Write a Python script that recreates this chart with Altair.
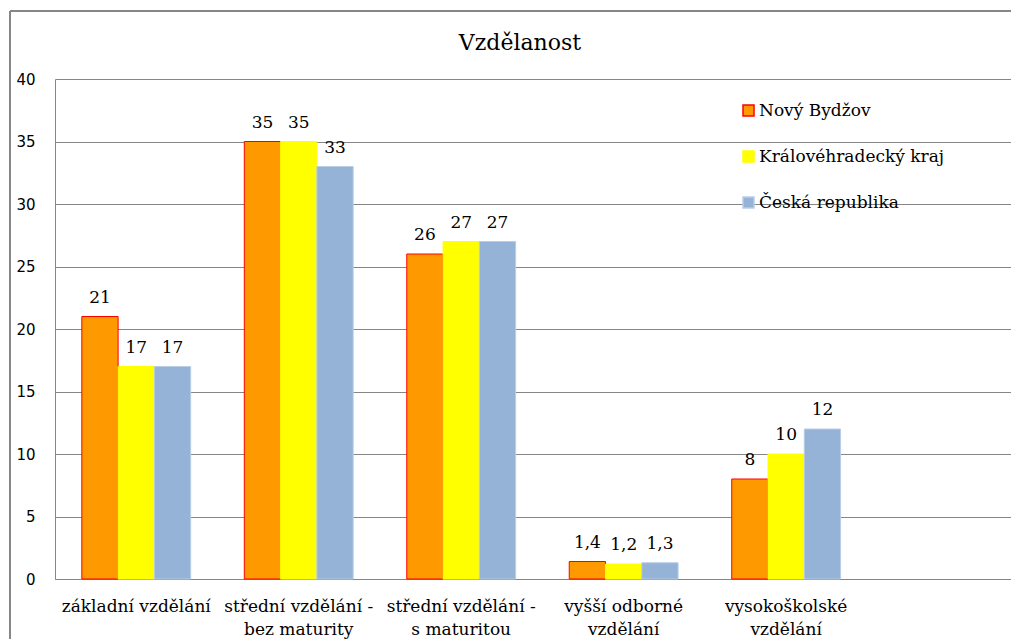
import altair as alt
import pandas as pd

categories = [
    "základní vzdělání",
    "střední vzdělání -|bez maturity",
    "střední vzdělání -|s  maturitou",
    "vyšší odborné|vzdělání",
    "vysokoškolské|vzdělání",
]
series = ["Nový Bydžov", "Královéhradecký kraj", "Česká republika"]
novy_bydzov = [21, 35, 26, 1.4, 8]
kralovehradecky_kraj = [17, 35, 27, 1.2, 10]
ceska_republika = [17, 33, 27, 1.3, 12]
y_ticks = [0, 5, 10, 15, 20, 25, 30, 35, 40]
fill_colors = ["#FF9900", "#FFFF00", "#95B3D7"]
stroke_colors = ["#FF0000", "#FFFF00", "#B9CDE5"]

rows = []
for s, vals in zip(series, [novy_bydzov, kralovehradecky_kraj, ceska_republika]):
    for c, v in zip(categories, vals):
        rows.append({"kategorie": c, "oblast": s, "hodnota": v})
df = pd.DataFrame(rows)

GRAY = "#868686"
SERIF = "DejaVu Serif"

x_enc = alt.X(
    "kategorie:N",
    sort=categories,
    scale=alt.Scale(paddingInner=0.33, paddingOuter=0.607, align=0.136),
    axis=alt.Axis(
        title=None,
        labelExpr="split(datum.label, '|')",
        labelAngle=0,
        ticks=False,
        domainColor=GRAY,
        labelFont=SERIF,
        labelFontSize=17,
        labelLineHeight=23,
        labelPadding=19,
        labelColor="#000000",
        labelLimit=300,
    ),
)
y_enc = alt.Y(
    "hodnota:Q",
    scale=alt.Scale(domain=[0, 40], nice=False),
    axis=alt.Axis(
        values=y_ticks,
        title=None,
        ticks=False,
        grid=True,
        gridColor=GRAY,
        domainColor=GRAY,
        labelFont="DejaVu Sans",
        labelFontSize=15,
        labelPadding=20,
        labelColor="#000000",
    ),
)
xoff = alt.XOffset("oblast:N", sort=series)

base = alt.Chart(df)

bars = base.mark_bar(strokeWidth=1).encode(
    x=x_enc,
    y=y_enc,
    xOffset=xoff,
    fill=alt.Fill(
        "oblast:N",
        sort=series,
        scale=alt.Scale(domain=series, range=fill_colors),
        legend=alt.Legend(
            title=None,
            orient="none",
            legendX=685,
            legendY=23,
            symbolType="square",
            symbolSize=121,
            symbolStrokeWidth=1.5,
            labelFont=SERIF,
            labelFontSize=17,
            labelColor="#000000",
            labelLimit=300,
            rowPadding=28,
            labelOffset=2,
        ),
    ),
    stroke=alt.Stroke(
        "oblast:N",
        sort=series,
        scale=alt.Scale(domain=series, range=stroke_colors),
        legend=None,
    ),
)

labels = base.transform_calculate(
    popisek="replace(toString(datum.hodnota), '.', ',')"
).mark_text(
    baseline="alphabetic", dy=-14, font=SERIF, fontSize=17, color="#000000"
).encode(
    x=alt.X("kategorie:N", sort=categories),
    y=alt.Y("hodnota:Q"),
    xOffset=xoff,
    text="popisek:N",
)

border_df = pd.DataFrame({"k": [0]})
top_border = alt.Chart(border_df).mark_rule(color=GRAY, strokeWidth=2, clip=False).encode(
    x=alt.value(-45), x2=alt.value(970), y=alt.value(-68)
)
left_border = alt.Chart(border_df).mark_rule(color=GRAY, strokeWidth=2, clip=False).encode(
    x=alt.value(-45), y=alt.value(-68), y2=alt.value(600)
)

chart = (
    alt.layer(bars, labels, top_border, left_border)
    .properties(
        width=956,
        height=500,
        title=alt.TitleParams(
            "Vzdělanost",
            font=SERIF,
            fontSize=22,
            fontWeight="normal",
            color="#000000",
            anchor="middle",
            frame="group",
            baseline="alphabetic",
            dx=-13,
            dy=88,
            offset=26,
        ),
        autosize=alt.AutoSizeParams(type="none"),
        padding={"left": 47, "top": 71, "right": 0, "bottom": 60},
        background="white",
    )
    .configure_view(stroke=None)
)

chart.save("out.html", embed_options={"renderer": "svg", "actions": False})
